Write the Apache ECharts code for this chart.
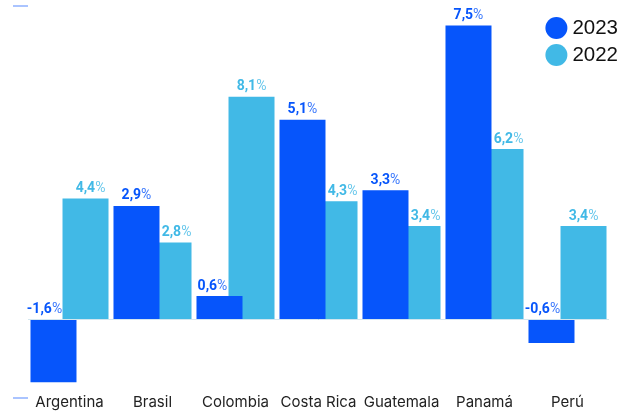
<!DOCTYPE html>
<html>
<head>
<meta charset="utf-8">
<script src="https://cdn.jsdelivr.net/npm/echarts@6/dist/echarts.min.js"></script>
<style>
html,body{margin:0;padding:0;background:#fff;}
#chart{width:634px;height:414px;}
</style>
</head>
<body>
<div id="chart"></div>
<script>
const categories = ['Argentina', 'Brasil', 'Colombia', 'Costa Rica', 'Guatemala', 'Panamá', 'Perú'];
const values2023 = [-1.6, 2.9, 0.6, 5.1, 3.3, 7.5, -0.6];
const values2022 = [4.4, 2.8, 8.1, 4.3, 3.4, 6.2, 3.4];
const seriesNames = ['2023', '2022'];

const axis23 = { min: -2, max: 8 };
const axis22 = { min: -2.85, max: 11.4 };

const C23 = '#0655FB';
const C22 = '#41B9E6';

function fmt(v) { return v.toFixed(1).replace('.', ','); }

// label shifts so labels sit over the visible part of the overlapped bars
const h23 = values2023.map(v => v / (axis23.max - axis23.min));
const h22 = values2022.map(v => v / (axis22.max - axis22.min));
const data23 = values2023.map((v, i) => {
  let off = 0;
  if (v < 0) off = -9;
  else if (h22[i] > h23[i]) off = -7;
  return { value: v, label: { offset: [off, 0] } };
});
const data22 = values2022.map((v, i) => {
  let off = 0;
  if (values2023[i] > 0 && h23[i] >= h22[i]) off = 8;
  else if (values2023[i] < 0 && i === 0) off = 5;
  return { value: v, label: { offset: [off, 0] } };
});

function labelCfg(color) {
  return {
    show: true,
    position: 'top',
    distance: 3,
    formatter: p => '{n|' + fmt(p.value) + '}{p|%}',
    rich: {
      n: { fontFamily: 'Roboto', fontWeight: 'bold', fontSize: 14, color: color },
      p: { fontFamily: 'Roboto', fontWeight: 'normal', fontSize: 14, color: color, opacity: 0.8 }
    }
  };
}

const chart = echarts.init(document.getElementById('chart'), null, { renderer: 'canvas' });
chart.setOption({
  animation: false,
  backgroundColor: '#fff',
  grid: { left: 28, right: 25, top: 6, bottom: 16, containLabel: false },
  legend: {
    data: seriesNames,
    orient: 'vertical',
    right: 11,
    top: 12,
    itemGap: 5,
    itemWidth: 22,
    itemHeight: 22,
    icon: 'circle',
    textStyle: { fontFamily: 'Liberation Sans', fontSize: 20.5, color: '#111' }
  },
  xAxis: {
    type: 'category',
    data: categories,
    axisLine: { show: false, onZero: false },
    axisTick: { show: false },
    axisLabel: { interval: 0, margin: 4, verticalAlign: 'middle', fontFamily: 'Inter', fontSize: 15, color: '#222' },
    splitLine: { show: false }
  },
  yAxis: [
    {
      type: 'value', min: axis23.min, max: axis23.max, position: 'left',
      axisLine: { show: false },
      axisLabel: { show: false },
      splitLine: { show: false },
      axisTick: { show: true, length: 15, customValues: [axis23.min, axis23.max], lineStyle: { color: '#aac4ff', width: 2 } }
    },
    {
      type: 'value', min: axis22.min, max: axis22.max, show: false,
      splitLine: { show: false }
    }
  ],
  series: [
    {
      name: seriesNames[0], type: 'bar', yAxisIndex: 0, z: 3,
      barWidth: 46, barGap: '-30.4%', barCategoryGap: 0,
      itemStyle: { color: C23 },
      label: labelCfg(C23),
      data: data23,
      markLine: {
        silent: true, symbol: 'none', label: { show: false },
        lineStyle: { color: '#d3e6ef', type: 'solid', width: 1 },
        data: [{ yAxis: 0 }]
      }
    },
    {
      name: seriesNames[1], type: 'bar', yAxisIndex: 1, z: 2,
      barWidth: 46, barGap: '-30.4%',
      itemStyle: { color: C22 },
      label: labelCfg(C22),
      data: data22
    }
  ]
});
</script>
</body>
</html>
